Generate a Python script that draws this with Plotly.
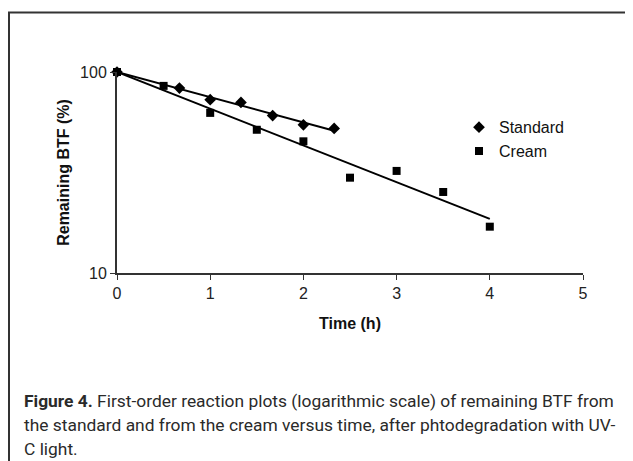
import numpy as np
import plotly.graph_objects as go

# Data
std_time = [0, 0.67, 1, 1.33, 1.67, 2, 2.33]
std_pct = [100, 83.2, 72.8, 70.6, 60.7, 54.6, 52.4]
cream_time = [0, 0.5, 1, 1.5, 2, 2.5, 3, 3.5, 4]
cream_pct = [100, 85.3, 62.6, 51.6, 45.2, 29.8, 32.2, 25.3, 17.0]
x_ticks = [0, 1, 2, 3, 4, 5]
y_ticks = [10, 100]
caption_lines = [
    "<b>Figure 4.</b> First-order reaction plots (logarithmic scale) of remaining BTF from",
    "the standard and from the cream versus time, after phtodegradation with UV-",
    "C light.",
]

def first_order_fit(t, p):
    t = np.asarray(t, float)
    lp = np.log(np.asarray(p, float) / 100.0)
    k = np.sum(t * lp) / np.sum(t * t)
    tt = np.array([t.min(), t.max()])
    return tt, 100.0 * np.exp(k * tt)

# page offset (body margin) compensation
OFF = 8
W, H = 633 - OFF, 461 - OFF
# plot area in figure pixels
L, R, T, B = 117 - OFF, 583 - OFF, 71.7 - OFF, 273 - OFF
pw, ph = R - L, B - T
def px(x): return (x - OFF - L) / pw
def py(y): return (B - (y - OFF)) / ph

fig = go.Figure()
for t, p, name, sym in [(std_time, std_pct, "Standard", "diamond"),
                        (cream_time, cream_pct, "Cream", "square")]:
    ft, fp = first_order_fit(t, p)
    fig.add_trace(go.Scatter(x=ft, y=fp, mode="lines", line=dict(color="black", width=2),
                             showlegend=False, hoverinfo="skip", cliponaxis=False))
    fig.add_trace(go.Scatter(x=t, y=p, mode="markers", name=name,
                             marker=dict(symbol=sym, color="black", size=9 if sym == "diamond" else 8),
                             cliponaxis=False))

axis_font = dict(family="Arial, Liberation Sans, sans-serif", size=16, color="#222")
fig.update_xaxes(range=[0, 5], tickvals=x_ticks, ticks="outside", ticklen=5, tickcolor="#333",
                 showline=True, linecolor="#333", linewidth=2, showgrid=False, zeroline=False,
                 tickfont=axis_font,
                 title=dict(text="<b>Time (h)</b>", font=dict(family="Arial, Liberation Sans, sans-serif", size=16, color="#111"), standoff=17))
fig.update_yaxes(type="log", range=[1, 2], tickvals=y_ticks, ticktext=["10", "100"], ticks="outside",
                 ticklen=5, tickcolor="#333", showline=True, linecolor="#333", linewidth=2,
                 showgrid=False, zeroline=False, tickfont=axis_font,
                 title=dict(text="<b>Remaining BTF (%)</b>", font=dict(family="Arial, Liberation Sans, sans-serif", size=16, color="#111"), standoff=6))

shapes = [dict(type="rect", xref="paper", yref="paper", x0=px(9), x1=px(650), y0=py(480), y1=py(12),
               line=dict(color="#333", width=2), fillcolor="rgba(0,0,0,0)", layer="below")]

annotations = []
for i, line in enumerate(caption_lines):
    annotations.append(dict(text=line, xref="paper", yref="paper", x=px(22), y=py(401 + 24 * i),
                            xanchor="left", yanchor="middle", showarrow=False, align="left",
                            font=dict(family="Roboto, sans-serif", size=17.4, color="#2a2a2a")))

fig.update_layout(
    width=W, height=H, margin=dict(l=L, r=W - R, t=T, b=H - B),
    paper_bgcolor="white", plot_bgcolor="white",
    showlegend=True,
    legend=dict(x=px(459), y=py(110), xanchor="left", yanchor="top", bgcolor="rgba(0,0,0,0)",
                font=dict(family="Arial, Liberation Sans, sans-serif", size=16, color="#111"),
                itemwidth=30, tracegroupgap=0),
    shapes=shapes, annotations=annotations,
)
fig.write_html("out.html")
